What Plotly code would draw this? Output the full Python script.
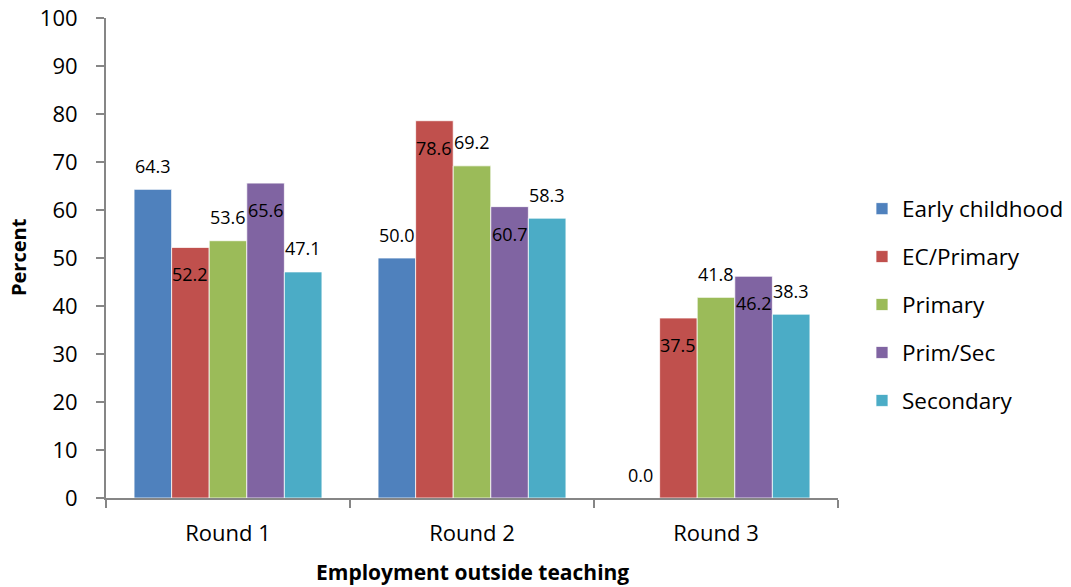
import plotly.graph_objects as go

# Share of respondents with employment outside teaching, by round and program
rounds = ["Round 1", "Round 2", "Round 3"]
early_childhood = [64.3, 50.0, 0.0]
ec_primary = [52.2, 78.6, 37.5]
primary = [53.6, 69.2, 41.8]
prim_sec = [65.6, 60.7, 46.2]
secondary = [47.1, 58.3, 38.3]

series_names = ["Early childhood", "EC/Primary", "Primary", "Prim/Sec", "Secondary"]
series_values = [early_childhood, ec_primary, primary, prim_sec, secondary]
colors = ["#4F81BD", "#C0504D", "#9BBB59", "#8064A2", "#4BACC6"]
# label sits above the bar end (True) or just inside it (False)
label_above = [True, False, True, False, True]

FONT = "Open Sans"
W, H = 1071, 587
margin = dict(l=106, r=233, t=18, b=89, autoexpand=False)
bargap = 0.23

plot_w = W - margin["l"] - margin["r"]
plot_h = H - margin["t"] - margin["b"]
cat_px = plot_w / len(rounds)
bar_px = cat_px * (1 - bargap) / len(series_names)

fig = go.Figure()
for i, (name, vals, col) in enumerate(zip(series_names, series_values, colors)):
    fig.add_trace(go.Bar(
        x=rounds, y=vals, name=name, legendgroup=name,
        marker=dict(color=col, line=dict(color="rgba(255,255,255,0.75)", width=1)),
        hoverinfo="skip",
    ))

annotations = []
for i, vals in enumerate(series_values):
    for r, v in zip(rounds, vals):
        annotations.append(dict(
            x=r, y=v, xref="x", yref="y", text=f"{v:.1f}", showarrow=False,
            xshift=(i - 2) * bar_px, yshift=23.5 if label_above[i] else -27,
            font=dict(family=FONT, size=18, color="#000000"),
            xanchor="center", yanchor="middle",
        ))

# axis titles
annotations.append(dict(
    x=0.5, y=(H - margin["b"] - 572) / plot_h, xref="paper", yref="paper",
    text="<b>Employment outside teaching</b>",
    showarrow=False, font=dict(family=FONT, size=21, color="#000000"),
    xanchor="center", yanchor="middle",
))
annotations.append(dict(
    x=(18 - margin["l"]) / plot_w, y=1 - (257 - margin["t"]) / plot_h,
    xref="paper", yref="paper", text="<b>Percent</b>", textangle=-90,
    showarrow=False, font=dict(family=FONT, size=20, color="#000000"),
    xanchor="center", yanchor="middle",
))

fig.update_layout(
    width=W, height=H, margin=margin,
    paper_bgcolor="white", plot_bgcolor="white",
    barmode="group", bargap=bargap, bargroupgap=0,
    font=dict(family=FONT, color="#000000"),
    showlegend=True,
    legend=dict(
        x=(862 - margin["l"]) / plot_w, xanchor="left",
        y=1 - (305 - margin["t"]) / plot_h, yanchor="middle",
        font=dict(family=FONT, size=22.5, color="#000000"),
        tracegroupgap=15.7, bgcolor="rgba(0,0,0,0)", traceorder="grouped",
    ),
    annotations=annotations,
)

fig.update_xaxes(
    automargin=False,
    showline=True, linecolor="#868686", linewidth=2,
    ticks="outside", tickson="boundaries", ticklen=8, tickcolor="#868686", tickwidth=2,
    tickfont=dict(family=FONT, size=22, color="#000000"), ticklabelstandoff=15,
    showgrid=False, zeroline=False,
)
fig.update_yaxes(
    automargin=False, range=[0, 100], dtick=10,
    showline=True, linecolor="#868686", linewidth=2,
    ticks="outside", ticklen=8, tickcolor="#868686", tickwidth=2,
    tickfont=dict(family=FONT, size=22, color="#000000"), ticklabelstandoff=14,
    showgrid=False, zeroline=False,
)

fig.write_html("out.html")
